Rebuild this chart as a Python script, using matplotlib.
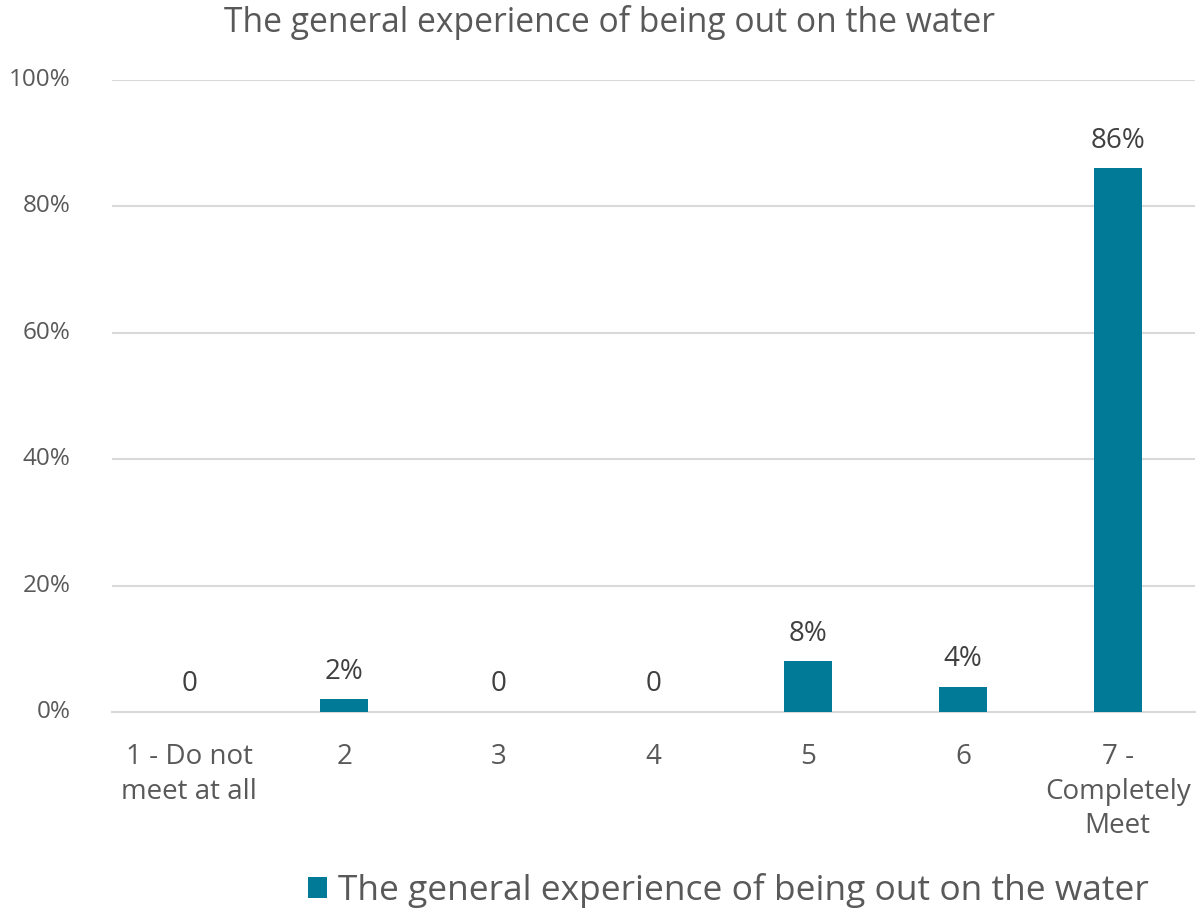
import matplotlib
matplotlib.use("Agg")
import matplotlib.pyplot as plt
from matplotlib.patches import Patch

# Survey response distribution
categories = ["1 - Do not\nmeet at all", "2", "3", "4", "5", "6", "7 -\nCompletely\nMeet"]
shares = [0.0, 0.02, 0.0, 0.0, 0.08, 0.04, 0.86]
labels = ["0", "2%", "0", "0", "8%", "4%", "86%"]
yticks = [0.0, 0.2, 0.4, 0.6, 0.8, 1.0]
ytick_labels = ["0%", "20%", "40%", "60%", "80%", "100%"]
series_name = "The general experience of being out on the water"

BAR = "#007A96"
GRID = "#D9D9D9"
TICK = "#595959"
LABEL = "#404040"

plt.rcParams["font.family"] = ["Open Sans", "DejaVu Sans"]

W, H = 1196, 909
fig = plt.figure(figsize=(W / 100, H / 100), dpi=100)
left, right, bottom, top = 112, 1195, 712, 80
ax = fig.add_axes([left / W, (H - bottom) / H, (right - left) / W, (bottom - top) / H])

x = list(range(len(categories)))
bars = ax.bar(x, shares, width=0.31, color=BAR, zorder=3)

ax.set_xlim(-0.5, len(categories) - 0.5)
ax.set_ylim(0, 1.0)
ax.set_yticks(yticks)
ax.set_yticklabels(ytick_labels)
ax.set_xticks(x)
ax.set_xticklabels(categories, linespacing=1.3)

ax.grid(axis="y", color=GRID, linewidth=1.5, zorder=0)
ax.set_axisbelow(True)
for side in ["top", "right", "left"]:
    ax.spines[side].set_visible(False)
ax.spines["bottom"].set_color(GRID)
ax.spines["bottom"].set_linewidth(1.5)

ax.tick_params(axis="y", length=0, pad=30, labelsize=17.5, labelcolor=TICK)
ax.tick_params(axis="x", length=0, pad=22.5, labelsize=20, labelcolor=TICK)
for t in ax.get_yticklabels():
    t.set_va("center")

for xi, v, lab in zip(x, shares, labels):
    ax.annotate(lab, (xi, v), xytext=(0, 15), textcoords="offset points",
                ha="center", va="baseline", fontsize=20, color=LABEL)

fig.text(609 / W, 1 - 22 / H, series_name, ha="center", va="center",
         fontsize=24.2, color=TICK)

handle = Patch(facecolor=BAR, edgecolor="none")
fig.legend([handle], [series_name], loc="lower center", bbox_to_anchor=(728 / W, 1.0 / H),
           frameon=False, fontsize=25.5, labelcolor=TICK, handlelength=0.55,
           handleheight=0.55, handletextpad=0.3, borderpad=0, borderaxespad=0)

fig.savefig("out.png", dpi=100, facecolor="white")
